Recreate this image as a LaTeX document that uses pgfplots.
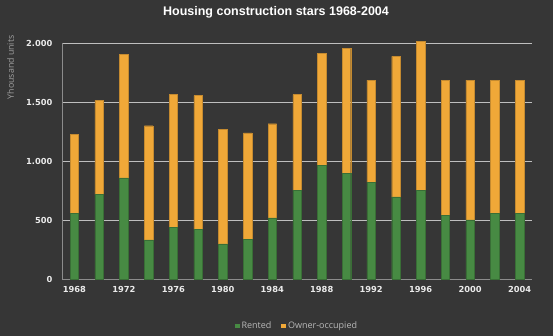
\documentclass[border=0pt]{standalone}
\usepackage{pgfplots}
\pgfplotsset{compat=1.18}
\usepackage{fontspec}
\setmainfont{Open Sans}
\newfontfamily\titlefont{Liberation Sans}
\newfontfamily\tickfont{DejaVu Sans}
\definecolor{bg}{HTML}{363636}
\definecolor{grid}{HTML}{5E5E5E}
\definecolor{axl}{HTML}{8C8C8C}
\definecolor{rented}{HTML}{478A43}
\definecolor{owner}{HTML}{F0A838}
\definecolor{ownerdark}{HTML}{C48A30}
\begin{document}
\begin{tikzpicture}
\fill[bg] (0pt,0pt) rectangle (553pt,336pt);
\useasboundingbox (0pt,0pt) rectangle (553pt,336pt);
\node[font=\titlefont\bfseries\fontsize{12.5}{14}\selectfont, text=white] at (276pt,324pt) {Housing construction stars 1968-2004};
\node[rotate=90, anchor=east, font=\fontsize{8.8}{10}\selectfont, text=gray!75] at (10.5pt,304pt) {Yhousand units};
\begin{axis}[
  at={(62pt,57pt)}, anchor=south west,
  scale only axis, width=470pt, height=236pt,
  ybar stacked, bar width=8.5pt,
  xmin=1967, xmax=2005, ymin=0, ymax=2000,
  clip=false,
  axis x line*=bottom, axis y line*=left,
  axis line style={axl, line width=0.8pt},
  every outer x axis line/.append style={-}, every outer y axis line/.append style={-},
  xtick={1968,1972,...,2004},
  xticklabels={1968,1972,1976,1980,1984,1988,1992,1996,2000,2004},
  ytick={0,500,1000,1500,2000},
  yticklabels={0,500,1.000,1.500,2.000},
  major tick length=0pt, tick style={draw=none},
  xmajorgrids=false,
  ymajorgrids, grid style={grid, line width=0.8pt},
  tick label style={font=\tickfont\bfseries\fontsize{8.3}{9}\selectfont, text=white!92!black},
  xticklabel style={yshift=-4pt},
  yticklabel style={xshift=-6pt},
  legend style={at={(0.5,-0.2)}, anchor=center, draw=none, fill=none,
    text=gray!55!white, font=\fontsize{9}{10}\selectfont,
    legend columns=2, /tikz/every even column/.append style={column sep=8pt}},
  legend image code/.code={\fill[#1,draw=none] (0pt,-2.3pt) rectangle (4.6pt,2.3pt);},
]
\addplot[fill=rented, draw=rented!80!black, line width=0.4pt] coordinates {
(1968,555) (1970,717) (1972,858) (1974,332) (1976,439) (1978,422) (1980,297)
(1982,338) (1984,517) (1986,751) (1988,966) (1990,895) (1992,821) (1994,696)
(1996,754) (1998,537) (2000,500) (2002,555) (2004,555)};
\addplot[fill=owner, draw=ownerdark, line width=0.4pt] coordinates {
(1968,672) (1970,795) (1972,1048) (1974,967) (1976,1124) (1978,1133) (1980,973)
(1982,901) (1984,799) (1986,812) (1988,946) (1990,1057) (1992,864) (1994,1191)
(1996,1261) (1998,1148) (2000,1185) (2002,1130) (2004,1130)};
\legend{Rented,Owner-occupied}
\end{axis}
\end{tikzpicture}
\end{document}
